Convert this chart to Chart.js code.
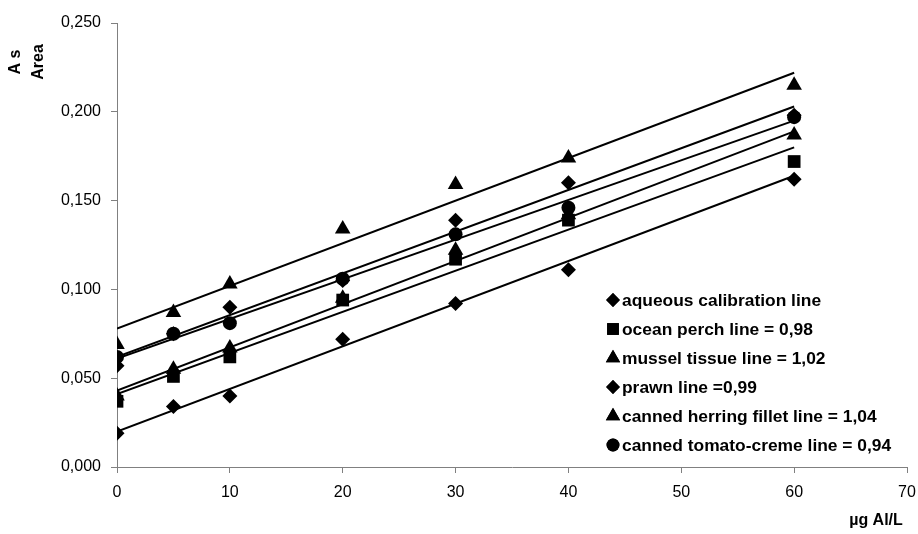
<!DOCTYPE html>
<html>
<head>
<meta charset="utf-8">
<script src="https://cdn.jsdelivr.net/npm/chart.js@4/dist/chart.umd.min.js"></script>
<style>
  html, body { margin: 0; padding: 0; background: #ffffff; }
  #wrap { width: 918px; height: 534px; position: relative; }
</style>
</head>
<body>
<div id="wrap"><canvas id="c" width="918" height="534"></canvas></div>
<script>
// ---- data ----
const xValues = [0, 5, 10, 20, 30, 40, 60];
const seriesNames = [
  'aqueous calibration line',
  'ocean perch line = 0,98',
  'mussel tissue line = 1,02',
  'prawn line =0,99',
  'canned herring fillet line = 1,04',
  'canned tomato-creme line = 0,94'
];
const aqueous      = [0.019, 0.034, 0.040, 0.072, 0.092, 0.111, 0.162];
const oceanPerch   = [0.037, 0.051, 0.062, 0.094, 0.117, 0.139, 0.172];
const musselTissue = [0.040, 0.055, 0.067, 0.095, 0.122, 0.142, 0.187];
const prawn        = [0.057, 0.075, 0.090, 0.105, 0.139, 0.160, 0.198];
const cannedHerring= [0.069, 0.087, 0.103, 0.134, 0.159, 0.174, 0.215];
const tomatoCreme  = [0.062, 0.075, 0.081, 0.106, 0.131, 0.146, 0.197];
// fitted trend lines (value at x = 0 and at x = 60), same order as series
const trendX     = [0, 60];
const trendStart = [0.020, 0.041, 0.043, 0.062, 0.078, 0.061];
const trendEnd   = [0.164, 0.180, 0.189, 0.203, 0.222, 0.195];
const yTicks = [0, 0.05, 0.10, 0.15, 0.20, 0.25];
const xTicks = [0, 10, 20, 30, 40, 50, 60, 70];
const yTitleLines = ['A s', 'Area'];
const xTitle = 'µg Al/L';

const FONT = '"Liberation Sans", Arial, Helvetica, sans-serif';
const allSeries = [aqueous, oceanPerch, musselTissue, prawn, cannedHerring, tomatoCreme];
const styles = ['rectRot', 'rect', 'triangle', 'rectRot', 'triangle', 'circle'];
const radii  = [7.5, 9, 9, 7.5, 9, 7];

const datasets = [];
allSeries.forEach((vals, i) => {
  datasets.push({
    label: seriesNames[i],
    data: xValues.map((x, k) => ({ x: x, y: vals[k] })),
    pointStyle: styles[i],
    pointRadius: radii[i],
    pointHoverRadius: radii[i],
    backgroundColor: '#000',
    borderColor: '#000',
    borderWidth: 0,
    showLine: false,
    order: 0
  });
});
allSeries.forEach((vals, i) => {
  datasets.push({
    label: 'trend ' + i,
    data: [{ x: trendX[0], y: trendStart[i] }, { x: trendX[1], y: trendEnd[i] }],
    showLine: true,
    pointRadius: 0,
    borderColor: '#000',
    borderWidth: 2,
    fill: false,
    order: 1
  });
});

const extraText = {
  id: 'extraText',
  afterDraw(chart) {
    const ctx = chart.ctx;
    ctx.save();
    // y-axis title (two rotated lines near the top)
    ctx.fillStyle = '#000';
    ctx.font = 'bold 16px ' + FONT;
    ctx.textAlign = 'center';
    ctx.textBaseline = 'middle';
    const tx = [16, 39];
    yTitleLines.forEach((t, i) => {
      ctx.save();
      ctx.translate(tx[i], 62);
      ctx.rotate(-Math.PI / 2);
      ctx.fillText(t, 0, 0);
      ctx.restore();
    });
    // x-axis title
    ctx.font = 'bold 16px ' + FONT;
    ctx.textAlign = 'center';
    ctx.fillText(xTitle, 876, 521);
    // legend
    ctx.font = 'bold 17.4px ' + FONT;
    ctx.textAlign = 'left';
    seriesNames.forEach((name, i) => {
      const y = 300 + i * 29;
      Chart.helpers.drawPoint(ctx, {
        pointStyle: styles[i], radius: radii[i] * 0.92, rotation: 0, borderWidth: 0
      }, 613, y);
      ctx.fillStyle = '#000';
      ctx.fill();
      ctx.fillText(name, 622, y + 1);
    });
    ctx.restore();
  }
};

new Chart(document.getElementById('c'), {
  type: 'scatter',
  data: { datasets: datasets },
  options: {
    responsive: false,
    animation: false,
    devicePixelRatio: 1,
    layout: { padding: { left: 0, right: 11, top: 23, bottom: 0 } },
    plugins: { legend: { display: false }, tooltip: { enabled: false } },
    scales: {
      x: {
        type: 'linear',
        min: 0, max: 70,
        afterFit(s) { s.height = 67; s.paddingRight = 0; },
        afterBuildTicks(s) { s.ticks = xTicks.map(v => ({ value: v })); },
        grid: { drawOnChartArea: false, drawTicks: true, tickLength: 6, color: '#808080' },
        border: { display: true, color: '#808080', width: 1 },
        ticks: { color: '#000', font: { family: FONT, size: 16 }, padding: 10, maxRotation: 0 }
      },
      y: {
        type: 'linear',
        min: 0, max: 0.25,
        afterFit(s) { s.width = 117; },
        afterBuildTicks(s) { s.ticks = yTicks.map(v => ({ value: v })); },
        grid: { drawOnChartArea: false, drawTicks: true, tickLength: 6, color: '#808080' },
        border: { display: true, color: '#808080', width: 1 },
        ticks: {
          color: '#000', font: { family: FONT, size: 16 }, padding: 10,
          callback: v => v.toFixed(3).replace('.', ',')
        }
      }
    }
  },
  plugins: [extraText]
});
</script>
</body>
</html>
